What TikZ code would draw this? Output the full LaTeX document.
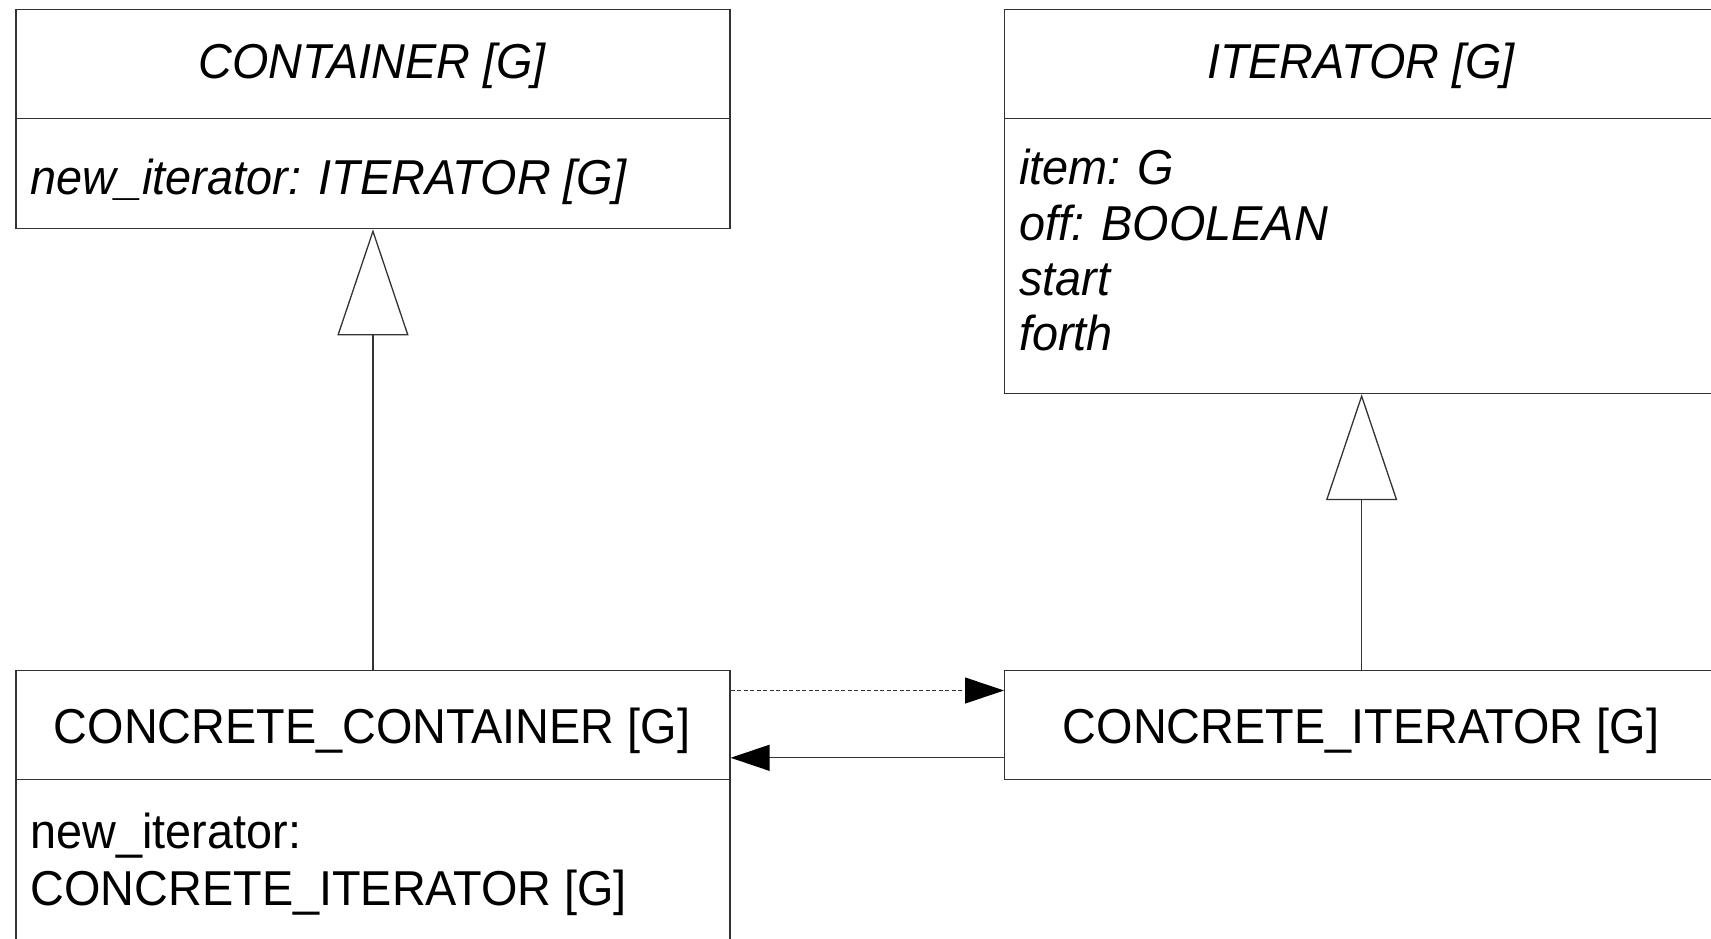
\documentclass[tikz,border=0pt]{standalone}
\usepackage{fontspec}
\setmainfont[FakeStretch=0.955]{Liberation Sans}
\usetikzlibrary{arrows.meta}
\begin{document}
\begin{tikzpicture}[x=1pt,y=-1pt,
  box/.style={draw=black!80, line width=1.3pt, rectangle, inner sep=0pt, anchor=north west, minimum width=714pt},
  txt/.style={font=\fontsize{49}{56}\selectfont, inner sep=0pt},
  inherit/.style={draw=black!80, line width=1.3pt, -{Triangle[open, length=106pt, width=71pt, fill=white]}},
  assoc/.style={draw=black!80, line width=1.3pt, -{Triangle[length=39pt, width=26pt, fill=black, color=black]}},
  dep/.style={assoc, line width=1pt, dash pattern=on 4pt off 2.5pt}]
\useasboundingbox (0,0) rectangle (1711,939);
% CONTAINER
\node[box, minimum height=109.2pt] (cth) at (15.3,8.7) {};
\node[box, minimum height=110.1pt] (ctb) at (15.3,117.9) {};
\node[txt, anchor=base] (cthT) at (372,79) {\itshape CONTAINER [G]};
\node[txt, anchor=base west] (ctbT) at (30.5,194) {\itshape new\_iterator: ITERATOR [G]};
% ITERATOR
\node[box, minimum height=109.2pt] (ith) at (1004,8.7) {};
\node[box, minimum height=274.9pt] (itb) at (1004,117.9) {};
\node[txt, anchor=base] (ithT) at (1361,79) {\itshape ITERATOR [G]};
\node[txt, anchor=base west] (itb1) at (1019,184) {\itshape item: G};
\node[txt, anchor=base west] (itb2) at (1019,240) {\itshape off: BOOLEAN};
\node[txt, anchor=base west] (itb3) at (1019,295) {\itshape start};
\node[txt, anchor=base west] (itb4) at (1019,350) {\itshape forth};
% CONCRETE_CONTAINER
\node[box, minimum height=109pt] (cch) at (15.3,670) {};
\node[box, minimum height=180pt] (ccb) at (15.3,779) {};
\node[txt, anchor=base] (cchT) at (372,743) {CONCRETE\_CONTAINER [G]};
\node[txt, anchor=base west] (ccb1) at (30.5,848) {new\_iterator:};
\node[txt, anchor=base west] (ccb2) at (30.5,905) {CONCRETE\_ITERATOR [G]};
% CONCRETE_ITERATOR
\node[box, minimum height=109pt] (cih) at (1004,670) {};
\node[txt, anchor=base] (cihT) at (1361,743) {CONCRETE\_ITERATOR [G]};
% connectors
\draw[inherit] (cch.north) -- (ctb.south);
\draw[inherit] (cih.north) -- (itb.south);
\draw[dep] ([yshift=-20.5pt]cch.north east) -- ([yshift=-20.5pt]cih.north west);
\draw[assoc] ([yshift=22.5pt]cih.south west) -- ([yshift=22.5pt]cch.south east);
\end{tikzpicture}
\end{document}
